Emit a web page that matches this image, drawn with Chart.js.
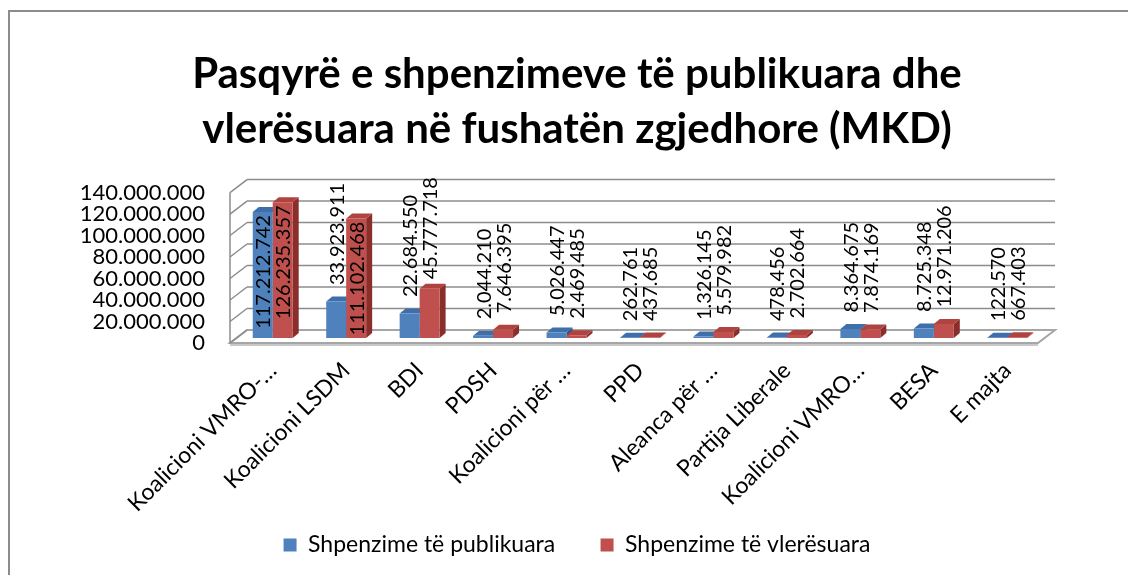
<!DOCTYPE html>
<html>
<head>
<meta charset="utf-8">
<script src="https://cdn.jsdelivr.net/npm/chart.js@4.4.0/dist/chart.umd.min.js"></script>
<style>
html, body { margin: 0; padding: 0; background: #fff; }
#wrap { width: 1128px; height: 575px; position: relative; }
</style>
</head>
<body>
<div id="wrap"><canvas id="spendChart"></canvas></div>
<script>
// names as shown (cut) on the axis
var parties = ["Koalicioni VMRO-…", "Koalicioni LSDM", "BDI", "PDSH", "Koalicioni për …",
    "PPD", "Aleanca për …", "Partija Liberale", "Koalicioni VMRO…", "BESA", "E majta"];
var published = [117212742, 33923911, 22684550, 2044210, 5026447, 262761, 1326145, 478456, 8364675, 8725348, 122570];
var estimated = [126235357, 111102468, 45777718, 7646395, 2469485, 437685, 5579982, 2702664, 7874169, 12971206, 667403];
var yTickValues = [0, 20000000, 40000000, 60000000, 80000000, 100000000, 120000000, 140000000];

var FONT = "Lato";
var FRONT = { dx: -6, dy: 5 };   // front plane relative to bars
var BACK = { dx: 11, dy: -8 };   // back wall relative to bars
var DEPTH = { dx: 6, dy: -5 };   // depth of one bar
var faceColors = [
    { top: '#3f6faa', side: '#2e5584' },
    { top: '#b0423f', side: '#8a2e2b' }
];

function fmt(v) {
    return String(v).replace(/\B(?=(\d{3})+(?!\d))/g, '.');
}

function line(ctx, x1, y1, x2, y2) {
    ctx.beginPath();
    ctx.moveTo(x1, y1);
    ctx.lineTo(x2, y2);
    ctx.stroke();
}

// fake 3d: walls, floor and bar tops/sides
var box3d = {
    id: 'box3d',
    beforeDraw: function (chart) {
        var ctx = chart.ctx;
        ctx.save();
        ctx.fillStyle = '#fff';
        ctx.fillRect(0, 0, chart.width, chart.height);
        ctx.strokeStyle = '#8c8c8c';
        ctx.lineWidth = 2;
        ctx.strokeRect(9, 11, 1300, 700);
        ctx.restore();
    },
    beforeDatasetsDraw: function (chart) {
        var ctx = chart.ctx, a = chart.chartArea, ys = chart.scales.y;
        var y0 = ys.getPixelForValue(0), yTop = ys.getPixelForValue(140000000);
        ctx.save();

        // floor
        ctx.fillStyle = '#fff';
        ctx.strokeStyle = '#a6a6a6';
        ctx.lineWidth = 2;
        ctx.beginPath();
        ctx.moveTo(a.left + FRONT.dx, y0 + FRONT.dy);
        ctx.lineTo(a.right + FRONT.dx, y0 + FRONT.dy);
        ctx.lineTo(a.right + BACK.dx, y0 + BACK.dy);
        ctx.lineTo(a.left + BACK.dx, y0 + BACK.dy);
        ctx.closePath();
        ctx.fill();
        ctx.stroke();
        ctx.strokeStyle = '#c8c8c8';
        line(ctx, a.left + FRONT.dx, y0 + FRONT.dy + 2, a.right + FRONT.dx, y0 + FRONT.dy + 2);

        // gridlines on back and left wall
        ctx.strokeStyle = '#8c8c8c';
        ctx.lineWidth = 1.5;
        yTickValues.forEach(function (v) {
            var py = ys.getPixelForValue(v);
            if (v > 0) line(ctx, a.left + BACK.dx, py + BACK.dy, a.right + BACK.dx, py + BACK.dy);
            line(ctx, a.left + FRONT.dx, py + FRONT.dy, a.left + BACK.dx, py + BACK.dy);
        });
        line(ctx, a.left + FRONT.dx, y0 + FRONT.dy, a.left + FRONT.dx, yTop + FRONT.dy);

        // tops and sides of the bars
        chart.data.datasets.forEach(function (ds, di) {
            var meta = chart.getDatasetMeta(di);
            meta.data.forEach(function (bar) {
                var p = bar.getProps(['x', 'y', 'base', 'width'], true);
                var l = p.x - p.width / 2, r = p.x + p.width / 2;
                ctx.fillStyle = faceColors[di].side;
                ctx.beginPath();
                ctx.moveTo(r, p.y);
                ctx.lineTo(r + DEPTH.dx, p.y + DEPTH.dy);
                ctx.lineTo(r + DEPTH.dx, p.base + DEPTH.dy);
                ctx.lineTo(r, p.base);
                ctx.closePath();
                ctx.fill();
                ctx.fillStyle = faceColors[di].top;
                ctx.beginPath();
                ctx.moveTo(l, p.y);
                ctx.lineTo(r, p.y);
                ctx.lineTo(r + DEPTH.dx, p.y + DEPTH.dy);
                ctx.lineTo(l + DEPTH.dx, p.y + DEPTH.dy);
                ctx.closePath();
                ctx.fill();
            });
        });
        ctx.restore();
    },
    afterDatasetsDraw: function (chart) {
        var ctx = chart.ctx, a = chart.chartArea;
        var limit = a.top - 10.5;
        ctx.save();
        ctx.font = '20px ' + FONT;
        ctx.fillStyle = '#000';
        ctx.textBaseline = 'middle';
        chart.data.datasets.forEach(function (ds, di) {
            var meta = chart.getDatasetMeta(di);
            meta.data.forEach(function (bar, i) {
                var text = fmt(ds.data[i]);
                var len = ctx.measureText(text).width;
                var p = bar.getProps(['x', 'y'], true);
                var bottom = p.y - 16.5;
                var inside = false;
                if (bottom - len < limit) {
                    bottom = limit + len;
                    if (bottom > p.y - 5) inside = true;
                }
                ctx.save();
                if (inside) {
                    ctx.translate(p.x, p.y + 3);
                    ctx.rotate(-Math.PI / 2);
                    ctx.textAlign = 'right';
                } else {
                    ctx.translate(p.x, bottom);
                    ctx.rotate(-Math.PI / 2);
                    ctx.textAlign = 'left';
                }
                ctx.fillText(text, 0, 1);
                ctx.restore();
            });
        });
        ctx.restore();
    }
};

var ctx = document.getElementById("spendChart");
var spendChart = new Chart(ctx, {
    type: 'bar',
    data: {
        labels: parties,
        datasets: [{
            label: 'Shpenzime të publikuara',
            data: published,
            backgroundColor: '#4f81bd',
            borderWidth: 0,
            categoryPercentage: 0.544,
            barPercentage: 1
        }, {
            label: 'Shpenzime të vlerësuara',
            data: estimated,
            backgroundColor: '#c0504d',
            borderWidth: 0,
            categoryPercentage: 0.544,
            barPercentage: 1
        }]
    },
    options: {
        responsive: true,
        maintainAspectRatio: false,
        animation: false,
        layout: { padding: { left: 70, right: 44, top: 0, bottom: 8.5 } },
        plugins: {
            title: {
                display: true,
                text: ['Pasqyrë e shpenzimeve të publikuara dhe', 'vlerësuara në fushatën zgjedhore (MKD)'],
                color: '#000',
                font: { family: FONT, size: 42, weight: 'bold', lineHeight: 1.31 },
                padding: { top: 47, bottom: 30.5 }
            },
            legend: {
                position: 'bottom',
                labels: {
                    color: '#000',
                    font: { family: FONT, size: 23 },
                    boxWidth: 13,
                    boxHeight: 13,
                    padding: 10,
                    generateLabels: function (chart) {
                        var items = Chart.defaults.plugins.legend.labels.generateLabels(chart);
                        // wider gap after the first entry
                        items[0].text += '      ';
                        return items;
                    }
                }
            },
            tooltip: { enabled: false }
        },
        scales: {
            x: {
                grid: { display: false, drawTicks: false },
                border: { display: false },
                ticks: {
                    color: '#000',
                    font: { family: FONT, size: 23 },
                    minRotation: 45,
                    maxRotation: 45,
                    autoSkip: false,
                    padding: 19
                },
                afterFit: function (axis) { axis.height = 185.5; }
            },
            y: {
                min: 0,
                max: 140000000,
                grid: { display: false, drawTicks: false },
                border: { display: false },
                ticks: {
                    color: '#000',
                    font: { family: FONT, size: 22 },
                    padding: 31,
                    labelOffset: 5,
                    autoSkip: false,
                    callback: function (v) { return fmt(v); }
                },
                afterBuildTicks: function (axis) {
                    axis.ticks = yTickValues.map(function (v) { return { value: v }; });
                },
                afterFit: function (axis) { axis.width = 166; }
            },
            // empty right axis, only keeps the plot clear of the right edge
            yRight: {
                position: 'right',
                grid: { display: false, drawTicks: false },
                border: { display: false },
                ticks: { display: false },
                afterFit: function (axis) { axis.width = 40; }
            }
        }
    },
    plugins: [box3d]
});
</script>
</body>
</html>
